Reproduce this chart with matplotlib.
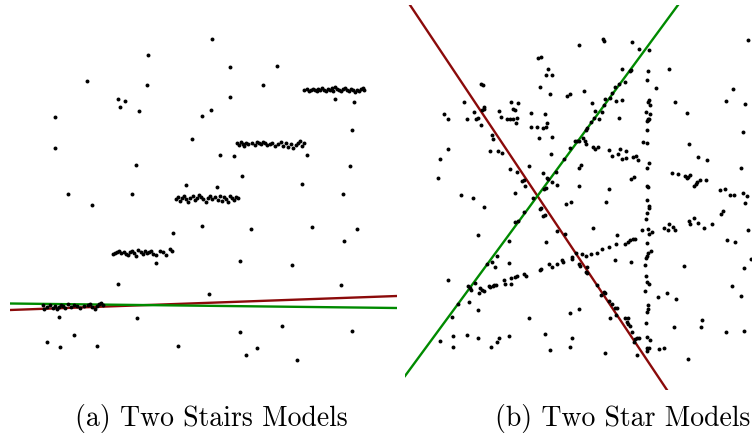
import matplotlib
matplotlib.use("Agg")
import matplotlib.pyplot as plt

# ---------------- Panel (a): Two Stairs Models ----------------
stairs_outliers_x = [212, 148, 230, 277, 87, 147, 263, 118, 125, 120, 139, 230, 211, 202, 55, 335, 354, 352,
                     192, 55, 220, 234, 307, 136, 350, 242, 186, 217, 302, 68, 132, 343, 92, 202, 173, 251,
                     312, 357, 344, 156, 240, 292, 118, 341, 209, 137, 59, 74, 240, 282, 352, 47, 60, 97,
                     178, 246, 257, 297]
stairs_outliers_y = [39, 55, 67, 66, 81, 85, 85, 99, 101, 107, 111, 97, 110, 116, 117, 99, 102, 130,
                     139, 148, 155, 156, 155, 165, 166, 176, 185, 187, 184, 194, 194, 194, 205, 226, 233, 229,
                     227, 229, 241, 263, 261, 265, 284, 285, 294, 318, 317, 335, 332, 326, 331, 342, 347, 346,
                     346, 355, 348, 360]

step1_x = [304, 307, 309, 311, 313, 315, 317, 318, 320, 322, 324, 326, 328, 330, 332, 333, 335, 337, 339, 341,
           343, 345, 347, 349, 351, 353, 355, 357, 359, 361, 363, 364]
step1_y = [90, 89, 91, 90, 89, 90, 91, 89, 90, 88, 90, 91, 89, 90, 88, 91, 87, 89, 90, 91,
           89, 88, 90, 91, 89, 90, 92, 90, 91, 89, 88, 90]
step2_x = [237, 239, 241, 243, 244, 246, 248, 252, 255, 257, 259, 261, 263, 265, 267, 270, 272, 275, 278, 281,
           283, 286, 288, 291, 293, 296, 298, 300, 302, 304]
step2_y = [143, 145, 142, 144, 146, 143, 144, 143, 145, 142, 143, 144, 142, 143, 145, 144, 143, 146, 144, 142,
           146, 143, 147, 144, 148, 145, 143, 141, 146, 143]
step3_x = [176, 178, 180, 182, 184, 186, 188, 190, 193, 195, 197, 199, 201, 203, 206, 208, 210, 212, 215, 218,
           220, 222, 224, 226, 228, 230, 232, 234, 236, 238]
step3_y = [199, 197, 201, 198, 196, 199, 202, 198, 196, 200, 198, 195, 197, 199, 202, 198, 196, 199, 197, 200,
           196, 201, 197, 199, 202, 196, 198, 200, 197, 198]
step4_x = [113, 115, 117, 119, 121, 124, 126, 128, 130, 132, 134, 136, 138, 141, 143, 145, 147, 149, 151, 153,
           156, 160, 163, 166, 170, 172]
step4_y = [254, 253, 252, 251, 253, 252, 254, 255, 252, 251, 253, 256, 250, 252, 254, 251, 253, 252, 251, 254,
           255, 251, 252, 255, 249, 251]
step5_x = [43, 44, 47, 50, 53, 55, 57, 59, 61, 63, 65, 68, 71, 74, 77, 80, 84, 88, 90, 92, 95, 97, 99, 101, 103]
step5_y = [305, 309, 307, 305, 308, 306, 309, 307, 305, 306, 308, 304, 307, 305, 306, 308, 306, 305, 304, 307,
           309, 306, 304, 303, 305]

stairs_green_x = [10, 397]
stairs_green_y = [303.5, 308]
stairs_red_x = [10, 397]
stairs_red_y = [310, 296]

# ---------------- Panel (b): Two Star Models ----------------
star_x = [481, 483, 464, 511, 518, 444, 448, 474, 484, 484, 482, 467, 476, 478, 481, 499, 513, 515, 501, 507,
          510, 513, 517, 516, 492, 493, 448, 490, 498, 502, 440, 510, 517, 438, 522, 524, 515, 461, 473,
          603, 604, 579, 632, 639, 538, 541, 548, 546, 552, 622, 630, 631, 625, 540, 619, 615, 584, 550, 567,
          570, 612, 610, 605, 622, 592, 616, 604, 595, 602, 531, 545, 547, 599, 594, 619, 591, 531, 537, 543,
          546, 587, 586, 552, 539, 583, 575, 577, 579, 585, 586, 593, 595, 598, 570, 551, 609, 620, 626, 618,
          612, 622, 626, 633, 636, 638, 564, 643, 529, 581, 579, 556, 543, 547, 548, 631, 634, 552, 557, 579,
          609, 544, 546, 525,
          748, 649, 669, 648, 647, 656, 733, 649, 648, 650, 675, 726, 745, 646, 650, 687, 648, 649, 647, 648,
          647, 743, 647, 689, 698, 707, 649, 647, 741, 672, 678, 685, 688, 690, 687, 700, 706, 697, 696, 694,
          647, 648, 720, 725, 730, 734, 743, 747,
          484, 524, 515, 518, 478, 509, 497, 487, 492, 495, 509, 448, 504, 511, 515, 517, 524, 505, 511, 468,
          471, 470, 480, 482, 484, 489, 490, 493, 494, 496, 479, 475, 469, 458, 478, 452, 440, 453, 467, 478,
          453, 499, 497, 509, 491,
          533, 566, 571, 606, 541, 540, 543, 545, 593, 557, 565, 642, 617, 546, 633, 635, 630, 628, 625, 616,
          609, 602, 597, 591, 586, 582, 576, 572, 572, 615, 631, 562, 563, 557, 579, 580, 587, 549, 552, 541,
          540, 586, 587, 526, 597, 604, 605, 601, 609, 612, 615, 617, 579, 570, 616, 529, 610, 625, 628, 627,
          628, 630, 545, 632, 572, 635, 637, 639, 634, 570, 550, 605, 637,
          647, 649, 649, 647, 646, 648, 652, 649, 647, 651, 648, 647, 646, 645, 646, 647, 649, 645, 658, 667,
          676, 648, 648, 647, 646, 674, 647, 650, 647, 649, 647, 659, 664, 688, 684, 689, 690, 694, 698, 704,
          712, 669, 664, 668, 673, 675, 723, 721, 745, 748, 727, 735, 751, 744, 732, 741, 702, 701, 726, 744]
star_y = [84, 85, 102, 102, 103, 114, 119, 112, 107, 109, 110, 119, 119, 118, 125, 111, 109, 110, 117, 119,
          119, 119, 118, 123, 135, 139, 149, 151, 151, 153, 159, 169, 172, 178, 181, 180, 193, 195, 198,
          39, 41, 45, 42, 49, 58, 57, 69, 75, 75, 69, 71, 70, 82, 87, 84, 87, 91, 94, 96,
          94, 93, 98, 99, 100, 103, 101, 105, 111, 112, 113, 114, 123, 119, 118, 118, 122, 127, 127, 128,
          127, 128, 130, 137, 138, 138, 141, 141, 141, 141, 144, 147, 149, 147, 148, 154, 150, 149, 151, 154,
          156, 159, 158, 157, 156, 160, 159, 142, 166, 165, 168, 172, 173, 178, 179, 179, 177, 182, 185, 186,
          189, 189, 188, 186,
          40, 50, 69, 71, 80, 88, 89, 100, 102, 105, 102, 101, 104, 112, 114, 113, 119, 119, 121, 120,
          130, 132, 143, 144, 157, 160, 163, 168, 168, 173, 174, 176, 177, 175, 178, 180, 180, 182, 184, 186,
          186, 187, 190, 189, 195, 195, 193, 196,
          207, 212, 222, 221, 235, 241, 256, 264, 262, 267, 263, 280, 280, 278, 277, 276, 274, 284, 284, 286,
          290, 288, 288, 290, 291, 286, 287, 286, 285, 285, 293, 283, 302, 304, 310, 317, 341, 336, 335, 338,
          347, 338, 342, 336, 347,
          198, 204, 202, 202, 208, 209, 216, 215, 228, 231, 234, 230, 235, 242, 239, 239, 240, 242, 244, 244,
          247, 249, 253, 254, 256, 254, 253, 257, 259, 260, 262, 260, 262, 264, 264, 266, 267, 264, 267, 269,
          270, 272, 273, 276, 285, 292, 293, 295, 301, 304, 308, 308, 309, 313, 315, 318, 318, 318, 318, 322,
          324, 326, 334, 332, 338, 339, 338, 338, 342, 347, 350, 353, 355,
          200, 206, 208, 213, 219, 229, 232, 234, 243, 251, 253, 256, 258, 265, 276, 282, 284, 291, 297, 293,
          299, 305, 309, 312, 323, 327, 337, 340, 348, 348, 351, 349, 348, 359, 266, 221, 224, 218, 223, 228,
          224, 224, 228, 230, 227, 230, 211, 214, 203, 230, 240, 242, 259, 268, 286, 296, 320, 327, 332, 331]

star_green_x = [405, 678]
star_green_y = [376, 5]
star_red_x = [410, 667]
star_red_y = [5, 390]

GREEN = "#008a00"
RED = "#8b0a0a"

fig = plt.figure(figsize=(7.52, 4.36), dpi=100)
W, H = 752.0, 436.0

ax_a = fig.add_axes([10 / W, 1 - 390 / H, 387 / W, 385 / H])
ax_b = fig.add_axes([405 / W, 1 - 390 / H, 347 / W, 385 / H])

dot = dict(s=8, c="black", linewidths=0, zorder=3)

for xs, ys in [(stairs_outliers_x, stairs_outliers_y), (step1_x, step1_y), (step2_x, step2_y),
               (step3_x, step3_y), (step4_x, step4_y), (step5_x, step5_y)]:
    ax_a.scatter(xs, ys, **dot)
ax_a.plot(stairs_red_x, stairs_red_y, color=RED, lw=1.7, zorder=2)
ax_a.plot(stairs_green_x, stairs_green_y, color=GREEN, lw=1.7, zorder=2)
ax_a.set_xlim(10, 397)
ax_a.set_ylim(390, 5)
ax_a.axis("off")

ax_b.scatter(star_x, star_y, **dot)
ax_b.plot(star_red_x, star_red_y, color=RED, lw=1.7, zorder=2)
ax_b.plot(star_green_x, star_green_y, color=GREEN, lw=1.7, zorder=2)
ax_b.set_xlim(405, 752)
ax_b.set_ylim(390, 5)
ax_b.axis("off")

fig.text(211 / W, 1 - 418 / H, "(a) Two Stairs Models", ha="center", va="center",
         fontfamily="cmr10", fontsize=20)
fig.text(623 / W, 1 - 418 / H, "(b) Two Star Models", ha="center", va="center",
         fontfamily="cmr10", fontsize=20)

fig.savefig("out.png", dpi=100, facecolor="white")
